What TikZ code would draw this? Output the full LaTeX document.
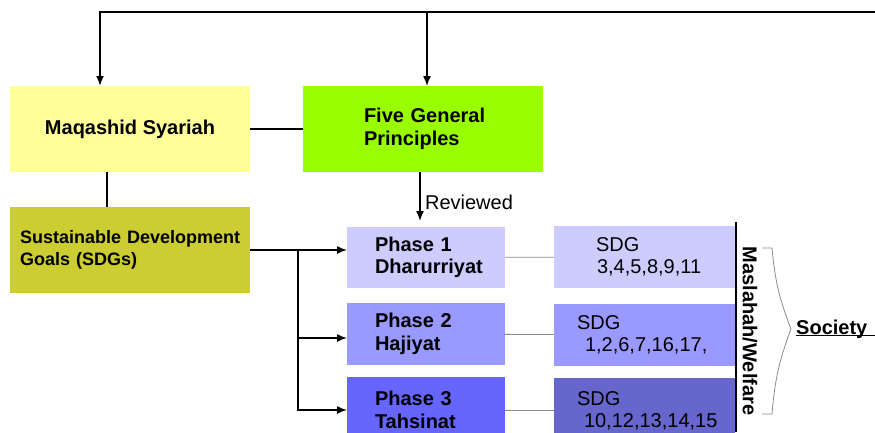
\documentclass[tikz,border=0pt]{standalone}
\usepackage{fontspec}
\setmainfont{Liberation Sans}
\usetikzlibrary{arrows.meta}
\definecolor{maqyellow}{HTML}{FFFF99}
\definecolor{principlegreen}{HTML}{99FF00}
\definecolor{sdgolive}{HTML}{CCCC33}
\definecolor{lavA}{HTML}{CCCCFF}
\definecolor{lavB}{HTML}{9999FF}
\definecolor{lavC}{HTML}{6666FF}
\definecolor{lavD}{HTML}{6666CC}
\newcommand{\pad}[2]{\hspace*{#1}#2}
\begin{document}
\begin{tikzpicture}[x=1pt,y=-1pt,
  box/.style={rectangle, inner sep=0pt, outer sep=0pt, anchor=north west,
    font=\bfseries\fontsize{20}{22.5}\selectfont, text=black},
  lbox/.style={box, align=left, text width=#1},
  plain/.style={font=\fontsize{20}{22.5}\selectfont},
  conn/.style={line width=1.5pt, black},
  arr/.style={conn, -{Latex[length=10pt,width=8pt]}},
  thin/.style={line width=0.8pt, black!45}]
\clip (0,0) rectangle (875,432);
\fill[white] (0,0) rectangle (875,432);

% upper row
\node[box, fill=maqyellow, minimum width=240pt, minimum height=86pt, align=center] (mq) at (10,86) {Maqashid Syariah};
\node[lbox=240pt, fill=principlegreen, minimum height=86pt] (fg) at (303,86)
  {\pad{61pt}{Five General}\\\pad{61pt}{Principles}};
\node[lbox=240pt, fill=sdgolive, minimum height=86pt, font=\bfseries\fontsize{18}{21.5}\selectfont] (sdg) at (10,207)
  {\pad{10pt}{Sustainable Development}\\\pad{10pt}{Goals (SDGs)}};

% phases
\node[lbox=158pt, fill=lavA, minimum height=61pt] (ph1) at (347,227) {\pad{28pt}{Phase 1}\\\pad{28pt}{Dharurriyat}};
\node[lbox=158pt, fill=lavB, minimum height=62pt] (ph2) at (347,303) {\pad{28pt}{Phase 2}\\\pad{28pt}{Hajiyat}};
\node[lbox=158pt, fill=lavC, minimum height=66pt] (ph3) at (347,377) {\pad{28pt}{Phase 3}\\\pad{28pt}{Tahsinat}};

% SDG groups
\node[lbox=181pt, fill=lavA, minimum height=62pt, plain] (sg1) at (554,226) {\pad{42pt}{SDG}\\\pad{43pt}{3,4,5,8,9,11}};
\node[lbox=181pt, fill=lavB, minimum height=62pt, plain] (sg2) at (554,304) {\pad{23pt}{SDG}\\\pad{31pt}{1,2,6,7,16,17,}};
\node[lbox=181pt, fill=lavD, minimum height=66pt, plain] (sg3) at (554,378) {\pad{23pt}{SDG}\\\pad{30pt}{10,12,13,14,15}};

% top feedback line
\coordinate (topR) at (875,12);
\coordinate (topM) at (427,12);
\draw[arr, line width=1.8pt] (topR) -| ([xshift=-30pt]mq.north);
\draw[arr] (topM) -- ([xshift=4pt]fg.north);

% links in the upper row
\draw[conn] (mq) -- (fg);
\draw[conn] ([xshift=-23pt]mq.south) -- ([xshift=-23pt]sdg.north);
\draw[arr, shorten >=6pt] ([xshift=-3pt]fg.south) -- node[plain, right, xshift=1pt, yshift=-3pt] (rev) {Reviewed} ([xshift=-3pt]fg.south |- ph1.north);

% SDGs feeding the phases
\coordinate (split) at (298,250);
\draw[conn] (sdg.east |- split) -- (split);
\draw[arr] (split) -- (split -| ph1.west);
\draw[arr] (split) |- ([yshift=-4pt]ph2.west);
\draw[arr] (split) |- (ph3.west);

% phase to SDG group links
\draw[thin] (ph1) -- (sg1);
\draw[thin] (ph2) -- (sg2);
\draw[thin] (ph3) -- (sg3);

% welfare bar and brace
\coordinate (barT) at (736,222);
\coordinate (barB) at (736,432);
\draw[line width=2pt] (barT) -- (barB);
\node[rotate=-90, font=\bfseries\fontsize{20}{22.5}\selectfont] (mw) at (750,331) {Maslahah/Welfare};
\coordinate (brT) at (762,248);
\coordinate (brB) at (762,414);
\coordinate (brP) at (791,329);
\draw[line width=0.8pt, black!45] (brT) -- ++(10,0) to[bend right=8] (brP) to[bend right=8] (772,414) -- (brB);
\node[anchor=base west, inner sep=0pt, font=\bfseries\fontsize{20}{22.5}\selectfont] (soc) at (796,334) {Society};
\coordinate (socEnd) at (875,335.5);
\draw[line width=1.5pt] (soc.base west |- socEnd) -- (socEnd);
\end{tikzpicture}
\end{document}
